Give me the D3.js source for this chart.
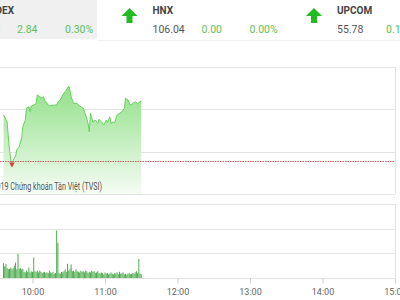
<!DOCTYPE html>
<html>
<head>
<meta charset="utf-8">
<script src="https://cdn.jsdelivr.net/npm/d3@7"></script>
<style>
body{margin:0;background:#fff;overflow:hidden;font-family:Roboto, "Noto Sans", sans-serif;}
</style>
</head>
<body>
<svg id="chart" width="400" height="300"></svg>
<script>
// header quotes
const indexNames = ["VN-INDEX", "HNX", "UPCOM"];
const indexValues = ["952.40", "106.04", "55.78"];
const indexChanges = ["2.84", "0.00", "0.14"];
const indexPercents = ["0.30%", "0.00%", "0.25%"];

// intraday VN-Index
const priceTimes = ["09:36","09:37","09:39","09:40","09:41","09:42","09:43","09:45","09:46","09:47",
    "09:49","09:51","09:52","09:54","09:55","09:57","09:58","09:59","10:01","10:03",
    "10:04","10:06","10:08","10:09","10:10","10:13","10:14","10:17","10:20","10:21",
    "10:23","10:25","10:27","10:30","10:31","10:32","10:34","10:37","10:39","10:42",
    "10:44","10:46","10:47","10:48","10:50","10:52","10:54","10:55","10:57","10:59",
    "11:01","11:02","11:04","11:05","11:07","11:08","11:10","11:12","11:14","11:16",
    "11:17","11:19","11:21","11:23","11:25","11:27","11:29","11:30"];
const priceValues = [951.73,951.64,951.40,950.69,950.08,949.60,949.46,949.70,949.79,950.08,
    950.23,950.64,951.18,951.49,952.06,952.12,951.89,952.16,952.20,952.28,
    952.68,952.60,952.52,952.60,952.44,952.20,952.16,952.20,952.20,952.36,
    952.44,952.68,952.83,953.10,952.91,952.60,952.28,952.28,952.16,952.05,
    951.73,951.34,950.94,951.81,951.41,951.49,951.34,951.53,951.41,951.26,
    951.49,951.37,951.65,951.34,951.41,951.37,951.73,951.81,951.89,952.05,
    952.52,952.44,952.20,952.28,952.36,952.28,952.36,952.39];
const refPrice = 949.56;
const priceTicks = [948, 950, 952, 954];

// volume per minute (million shares), first bar at volStart
const volStart = "09:36";
const volumes = [1.2,0.95,1.15,0.8,0.7,0.75,0.85,0.7,0.8,1.0,
    1.25,0.7,1.95,0.75,0.8,0.7,0.75,0.5,0.45,0.6,
    0.5,0.85,0.45,0.55,0.5,1.65,0.55,0.5,0.6,0.45,
    0.6,0.5,0.4,0.45,0.5,0.4,0.45,0.4,0.6,0.45,
    0.4,0.5,0.35,0.4,3.85,2.85,0.4,0.35,0.5,0.45,
    0.55,0.7,0.5,1.15,0.6,0.75,1.1,0.55,0.6,0.5,
    0.7,0.55,0.5,0.45,0.6,0.5,0.55,0.45,0.6,0.55,
    0.4,0.5,0.45,0.6,0.5,0.55,0.4,0.45,0.55,0.4,
    0.35,0.45,0.4,0.3,0.45,0.35,0.4,0.3,0.35,0.45,
    0.35,0.3,0.4,0.35,0.45,0.3,0.5,0.35,0.4,0.45,
    0.3,0.35,0.25,0.35,0.4,0.3,0.35,0.4,0.35,0.45,
    0.55,0.4,1.55,0.35,0.3];
const volTicks = [0, 2, 4, 6];
const timeTicks = ["10:00", "11:00", "12:00", "13:00", "14:00", "15:00"];

const parseTime = d3.timeParse("%H:%M");
const svg = d3.select("#chart");

// ---- header
const sectionWidth = 184.5, sectionStart = -63;
const header = svg.append("g");
header.append("rect")
    .attr("x", sectionStart - 30).attr("y", 0)
    .attr("width", 97 - (sectionStart - 30)).attr("height", 39)
    .attr("fill", "#f0f0f0");
header.append("line")
    .attr("x1", 97).attr("x2", 400).attr("y1", 40.5).attr("y2", 40.5)
    .attr("stroke", "#f0f0f0");

indexNames.forEach(function(name, i){
    const x0 = sectionStart + i * sectionWidth;
    const g = header.append("g").attr("transform", "translate(" + x0 + ",0)");
    // up arrow
    g.append("path")
        .attr("d", "M8,8 L16,16 L11,16 L11,23 L5,23 L5,16 L0,16 Z")
        .attr("fill", "#22bb22");
    g.append("text").attr("x", 31).attr("y", 14)
        .attr("font-size", 10).attr("font-weight", "bold").attr("fill", "#444")
        .text(name);
    g.append("text").attr("x", 31).attr("y", 33)
        .attr("font-size", 10.5).attr("fill", "#555")
        .text(indexValues[i]);
    g.append("text").attr("x", 80).attr("y", 33)
        .attr("font-size", 10.5).attr("fill", "#5cbf5c")
        .text(indexChanges[i]);
    g.append("text").attr("x", 128).attr("y", 33)
        .attr("font-size", 10.5).attr("fill", "#5cbf5c")
        .text(indexPercents[i]);
});

// ---- scales
const x = d3.scaleTime()
    .domain([parseTime("09:00"), parseTime("15:00")])
    .range([-40, 395]);
const yPrice = d3.scaleLinear().domain([948, 954]).range([194, 67]);
const yVol = d3.scaleLinear().domain([0, 6]).range([278, 204]);
const left = -40, right = 395;

// ---- price panel
const price = svg.append("g");
price.selectAll(".grid")
    .data(priceTicks)
    .enter().append("line")
    .attr("x1", left).attr("x2", right)
    .attr("y1", d => Math.round(yPrice(d)) + 0.5)
    .attr("y2", d => Math.round(yPrice(d)) + 0.5)
    .attr("stroke", "#e3e3e3");
price.append("line")
    .attr("x1", right + 0.5).attr("x2", right + 0.5)
    .attr("y1", yPrice(954)).attr("y2", yPrice(948))
    .attr("stroke", "#e3e3e3");

const grad = svg.append("defs").append("linearGradient")
    .attr("id", "areaGrad")
    .attr("gradientUnits", "userSpaceOnUse")
    .attr("x1", 0).attr("x2", 0).attr("y1", 80).attr("y2", 194);
grad.append("stop").attr("offset", 0).attr("stop-color", "#8cdf82");
grad.append("stop").attr("offset", 1).attr("stop-color", "#f5fcf4");

const priceData = priceTimes.map((t, i) => ({t: parseTime(t), v: priceValues[i]}));
price.append("path")
    .datum(priceData)
    .attr("fill", "url(#areaGrad)")
    .attr("d", d3.area().x(d => x(d.t)).y0(yPrice(948)).y1(d => yPrice(d.v)));
price.append("path")
    .datum(priceData)
    .attr("fill", "none")
    .attr("stroke", "#66d35c")
    .attr("stroke-width", 1)
    .attr("d", d3.line().x(d => x(d.t)).y(d => yPrice(d.v)));

// reference line (previous close)
price.append("line")
    .attr("x1", left).attr("x2", right)
    .attr("y1", Math.round(yPrice(refPrice)) + 0.5)
    .attr("y2", Math.round(yPrice(refPrice)) + 0.5)
    .attr("stroke", "#c95f5f")
    .attr("stroke-dasharray", "1.5,1");

// low marker
const low = priceData.reduce((a, b) => (b.v < a.v ? b : a));
price.append("path")
    .attr("d", d3.symbol().type(d3.symbolTriangle).size(14)())
    .attr("transform", "translate(" + x(low.t) + "," + (yPrice(low.v) + 1) + ") rotate(180)")
    .attr("fill", "#d9413a");

price.append("text")
    .attr("x", -15).attr("y", 190)
    .attr("textLength", 117)
    .attr("lengthAdjust", "spacingAndGlyphs")
    .attr("font-size", 10).attr("fill", "#555")
    .text("© 2019 Chứng khoán Tân Việt (TVSI)");

// ---- volume panel
const vol = svg.append("g");
vol.selectAll(".grid")
    .data(volTicks)
    .enter().append("line")
    .attr("x1", left).attr("x2", right)
    .attr("y1", d => Math.round(yVol(d)) + 0.5)
    .attr("y2", d => Math.round(yVol(d)) + 0.5)
    .attr("stroke", "#e3e3e3");
vol.append("line")
    .attr("x1", right + 0.5).attr("x2", right + 0.5)
    .attr("y1", yVol(6)).attr("y2", yVol(0))
    .attr("stroke", "#e3e3e3");

const t0 = parseTime(volStart);
vol.selectAll(".bar")
    .data(volumes)
    .enter().append("rect")
    .attr("x", (d, i) => x(d3.timeMinute.offset(t0, i)) - 0.5)
    .attr("width", 1)
    .attr("y", d => yVol(d))
    .attr("height", d => yVol(0) - yVol(d))
    .attr("fill", "#4dab4d");

const axis = vol.append("g")
    .attr("transform", "translate(0," + (Math.round(yVol(0)) + 0.5) + ")")
    .call(d3.axisBottom(x)
        .tickValues(timeTicks.map(parseTime))
        .tickFormat(d3.timeFormat("%H:%M"))
        .tickSize(5));
axis.select(".domain").remove();
axis.selectAll(".tick line").attr("stroke", "#ccc");
axis.selectAll(".tick text")
    .attr("fill", "#666")
    .attr("font-size", 9)
    .attr("font-family", "Roboto, sans-serif")
    .attr("dy", "0.9em");
</script>
</body>
</html>
